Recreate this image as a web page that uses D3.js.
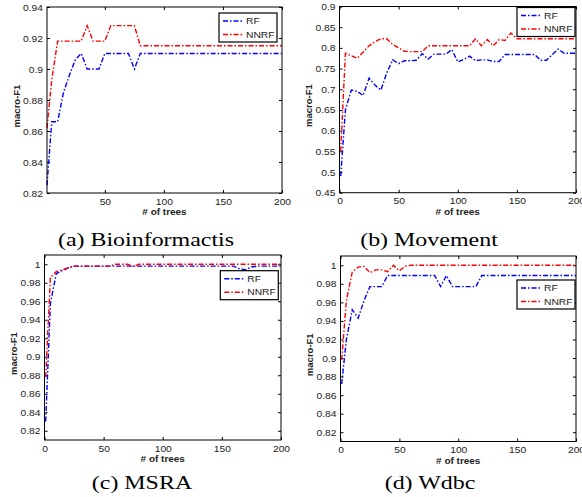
<!DOCTYPE html>
<html>
<head>
<meta charset="utf-8">
<script src="https://cdn.jsdelivr.net/npm/d3@7/dist/d3.min.js"></script>
<style>
body { margin: 0; background: #fff; }
svg { display: block; }
.tick text { font-family: "Liberation Sans", Arial, sans-serif; }
</style>
</head>
<body>
<div id="chart"></div>
<script>
// number of trees (x values shared by every panel)
var trees = [1, 5, 10, 15, 20, 25, 30, 35, 40, 45, 50, 55, 60, 65, 70, 75, 80, 85, 90, 95, 100,
	105, 110, 115, 120, 125, 130, 135, 140, 145, 150, 155, 160, 165, 170, 175, 180, 185, 190, 195, 200];

// (a) Bioinformactis
var bioRF = [0.825, 0.866, 0.866, 0.885, 0.896, 0.906, 0.910, 0.900, 0.900, 0.900, 0.910, 0.910, 0.910, 0.910, 0.910, 0.900, 0.910,
	0.910, 0.910, 0.910, 0.910, 0.910, 0.910, 0.910, 0.910, 0.910, 0.910, 0.910, 0.910, 0.910, 0.910, 0.910, 0.910, 0.910, 0.910, 0.910, 0.910, 0.910, 0.910, 0.910, 0.910];
var bioNNRF = [0.862, 0.893, 0.918, 0.918, 0.918, 0.918, 0.918, 0.928, 0.918, 0.918, 0.918, 0.928, 0.928, 0.928, 0.928, 0.928, 0.915,
	0.915, 0.915, 0.915, 0.915, 0.915, 0.915, 0.915, 0.915, 0.915, 0.915, 0.915, 0.915, 0.915, 0.915, 0.915, 0.915, 0.915, 0.915, 0.915, 0.915, 0.915, 0.915, 0.915, 0.915];

// (b) Movement
var movRF = [0.490, 0.650, 0.698, 0.695, 0.685, 0.727, 0.710, 0.698, 0.740, 0.771, 0.762, 0.769, 0.769, 0.770, 0.786, 0.773, 0.785,
	0.785, 0.785, 0.796, 0.766, 0.772, 0.780, 0.769, 0.771, 0.771, 0.767, 0.767, 0.784, 0.784, 0.784, 0.784, 0.784, 0.784, 0.770, 0.770, 0.784, 0.797, 0.787, 0.787, 0.787];
var movNNRF = [0.550, 0.787, 0.781, 0.775, 0.790, 0.805, 0.815, 0.822, 0.822, 0.808, 0.800, 0.792, 0.791, 0.791, 0.791, 0.805, 0.805,
	0.805, 0.805, 0.805, 0.805, 0.805, 0.805, 0.822, 0.805, 0.820, 0.805, 0.820, 0.818, 0.836, 0.822, 0.822, 0.822, 0.822, 0.822, 0.822, 0.822, 0.822, 0.822, 0.822, 0.822];

// (c) MSRA
var msraRF = [0.830, 0.958, 0.990, 0.993, 0.996, 0.998, 0.998, 0.998, 0.998, 0.998, 0.998, 0.998, 0.998, 0.998, 0.998, 0.998, 0.998,
	0.998, 0.998, 0.998, 0.998, 0.998, 0.998, 0.998, 0.998, 0.998, 0.998, 0.998, 0.998, 0.998, 0.998, 0.998, 0.998, 0.995, 0.994, 0.997, 0.998, 0.998, 0.998, 0.998, 0.998];
var msraNNRF = [0.878, 0.986, 0.992, 0.994, 0.996, 0.998, 0.998, 0.998, 0.998, 0.998, 0.998, 0.998, 1.000, 1.000, 1.000, 0.998, 1.000,
	1.000, 1.000, 1.000, 1.000, 1.000, 1.000, 1.000, 1.000, 1.000, 1.000, 1.000, 1.000, 1.000, 1.000, 1.000, 1.000, 1.000, 1.000, 1.000, 1.000, 1.000, 1.000, 1.000, 1.000];

// (d) Wdbc
var wdbcRF = [0.872, 0.920, 0.952, 0.943, 0.962, 0.977, 0.977, 0.977, 0.989, 0.989, 0.989, 0.989, 0.989, 0.989, 0.989, 0.989, 0.989,
	0.977, 0.989, 0.977, 0.977, 0.977, 0.977, 0.977, 0.989, 0.989, 0.989, 0.989, 0.989, 0.989, 0.989, 0.989, 0.989, 0.989, 0.989, 0.989, 0.989, 0.989, 0.989, 0.989, 0.989];
var wdbcNNRF = [0.898, 0.962, 0.993, 0.998, 0.999, 0.992, 0.995, 0.995, 0.993, 1.000, 0.994, 0.999, 1.000, 1.000, 1.000, 1.000, 1.000,
	1.000, 1.000, 1.000, 1.000, 1.000, 1.000, 1.000, 1.000, 1.000, 1.000, 1.000, 1.000, 1.000, 1.000, 1.000, 1.000, 1.000, 1.000, 1.000, 1.000, 1.000, 1.000, 1.000, 1.000];

var seriesNames = ["RF", "NNRF"];
var captions = ["(a) Bioinformactis", "(b) Movement", "(c) MSRA", "(d) Wdbc"];

// tick labels
var xTicksA = [50, 100, 150, 200];
var xTicks = [0, 50, 100, 150, 200];
var yTicksA = [0.82, 0.84, 0.86, 0.88, 0.9, 0.92, 0.94];
var yTicksB = [0.45, 0.5, 0.55, 0.6, 0.65, 0.7, 0.75, 0.8, 0.85, 0.9];
var yTicksCD = [0.82, 0.84, 0.86, 0.88, 0.9, 0.92, 0.94, 0.96, 0.98, 1];

var W = 582, H = 497;
var colors = ["#0000ff", "#ff0000"];
var dash = "5,2,1.5,2";
var sans = "'Liberation Sans', Arial, sans-serif";

var svg = d3.select("#chart").append("svg")
	.attr("width", W)
	.attr("height", H);

svg.append("rect").attr("width", W).attr("height", H).attr("fill", "#fff");

// layout of each sub-figure (pixels)
var panels = [
	{ l: 47, r: 282, t: 7, b: 193, xd: [1, 200], yd: [0.82, 0.94], xt: xTicksA, yt: yTicksA,
	  rf: bioRF, nn: bioNNRF, legR: 5, legT: 6, capX: 146, capY: 246 },
	{ l: 339.5, r: 576, t: 6.5, b: 192.7, xd: [0, 200], yd: [0.45, 0.9], xt: xTicks, yt: yTicksB,
	  rf: movRF, nn: movNNRF, legR: 1, legT: 1, capX: 429, capY: 246 },
	{ l: 44.5, r: 281, t: 255, b: 440, xd: [0, 200], yd: [0.81, 1.01], xt: xTicks, yt: yTicksCD,
	  rf: msraRF, nn: msraNNRF, legR: 2.7, legT: 15.7, capX: 142, capY: 489 },
	{ l: 340.5, r: 576, t: 256, b: 441.5, xd: [0, 200], yd: [0.81, 1.01], xt: xTicks, yt: yTicksCD,
	  rf: wdbcRF, nn: wdbcNNRF, legR: 1, legT: 24, capX: 430, capY: 489 }
];

panels.forEach(function(p, i) {
	drawPanel(p, captions[i]);
});

// widen a text horizontally (the reference figure is stretched sideways)
function stretch(sel, k) {
	var len = sel.node().getComputedTextLength();
	sel.attr("textLength", len * k).attr("lengthAdjust", "spacingAndGlyphs");
}

function drawPanel(p, caption) {
	var g = svg.append("g");
	var x = d3.scaleLinear().domain(p.xd).range([p.l, p.r]);
	var y = d3.scaleLinear().domain(p.yd).range([p.b, p.t]);
	var fmt = d3.format("~g");

	// axes, MATLAB style: ticks pointing inwards on all four sides
	var ax = g.append("g").attr("transform", "translate(0," + p.b + ")")
		.call(d3.axisBottom(x).tickValues(p.xt).tickFormat(fmt).tickSizeInner(-3).tickSizeOuter(0).tickPadding(5));
	var ay = g.append("g").attr("transform", "translate(" + p.l + ",0)")
		.call(d3.axisLeft(y).tickValues(p.yt).tickFormat(fmt).tickSizeInner(-3).tickSizeOuter(0).tickPadding(4));
	var axT = g.append("g").attr("transform", "translate(0," + p.t + ")")
		.call(d3.axisTop(x).tickValues(p.xt).tickFormat("").tickSizeInner(-3).tickSizeOuter(0));
	var ayR = g.append("g").attr("transform", "translate(" + p.r + ",0)")
		.call(d3.axisRight(y).tickValues(p.yt).tickFormat("").tickSizeInner(-3).tickSizeOuter(0));
	[ax, ay, axT, ayR].forEach(function(a) {
		a.select(".domain").remove();
		a.selectAll(".tick line").attr("stroke", "#000");
		a.selectAll(".tick text").attr("fill", "#222").style("font-size", "9.5px");
	});
	ax.selectAll(".tick text").each(function() { stretch(d3.select(this), 1.08); });
	ay.selectAll(".tick text").each(function() { stretch(d3.select(this), 1.08); });

	// the lines
	var line = d3.line()
		.x(function(d, k) { return x(trees[k]); })
		.y(function(d) { return y(d); });

	[p.rf, p.nn].forEach(function(vals, s) {
		g.append("path")
			.datum(vals)
			.attr("d", line)
			.attr("fill", "none")
			.attr("stroke", colors[s])
			.attr("stroke-width", 1.4)
			.attr("stroke-dasharray", dash);
	});

	// plot box
	g.append("rect")
		.attr("x", p.l).attr("y", p.t)
		.attr("width", p.r - p.l).attr("height", p.b - p.t)
		.attr("fill", "none")
		.attr("stroke", "#000")
		.attr("stroke-width", 1);

	// legend
	var lw = 58, lh = 29;
	var lx = p.r - p.legR - lw, ly = p.t + p.legT;
	var leg = g.append("g").attr("transform", "translate(" + lx + "," + ly + ")");
	leg.append("rect")
		.attr("width", lw).attr("height", lh)
		.attr("fill", "#fff").attr("stroke", "#000").attr("stroke-width", 1.2);
	seriesNames.forEach(function(name, s) {
		var yy = 8 + s * 13.5;
		leg.append("line")
			.attr("x1", 4).attr("x2", 23).attr("y1", yy).attr("y2", yy)
			.attr("stroke", colors[s]).attr("stroke-width", 1.4)
			.attr("stroke-dasharray", dash);
		var t = leg.append("text")
			.attr("x", 27).attr("y", yy + 3.3)
			.attr("fill", "#222")
			.style("font-family", sans)
			.style("font-size", "9.5px")
			.text(name);
		stretch(t, 1.08);
	});

	// axis labels
	var xl = g.append("text")
		.attr("x", (p.l + p.r) / 2).attr("y", p.b + 22)
		.attr("text-anchor", "middle")
		.attr("fill", "#222")
		.style("font-family", sans)
		.style("font-size", "9.5px").style("font-weight", "bold")
		.text("# of trees");
	stretch(xl, 1.05);
	g.append("text")
		.attr("transform", "translate(" + (p.l - 27.5) + "," + ((p.t + p.b) / 2 + 6) + ") rotate(-90)")
		.attr("text-anchor", "middle")
		.attr("fill", "#222")
		.style("font-family", sans)
		.style("font-size", "9.5px").style("font-weight", "bold")
		.text("macro-F1");

	// caption under the sub-figure
	var cap = g.append("text")
		.attr("x", p.capX).attr("y", p.capY)
		.attr("text-anchor", "middle")
		.style("font-family", "'Liberation Serif', 'Times New Roman', serif")
		.style("font-size", "18px")
		.text(caption);
	stretch(cap, 1.33);
}
</script>
</body>
</html>
